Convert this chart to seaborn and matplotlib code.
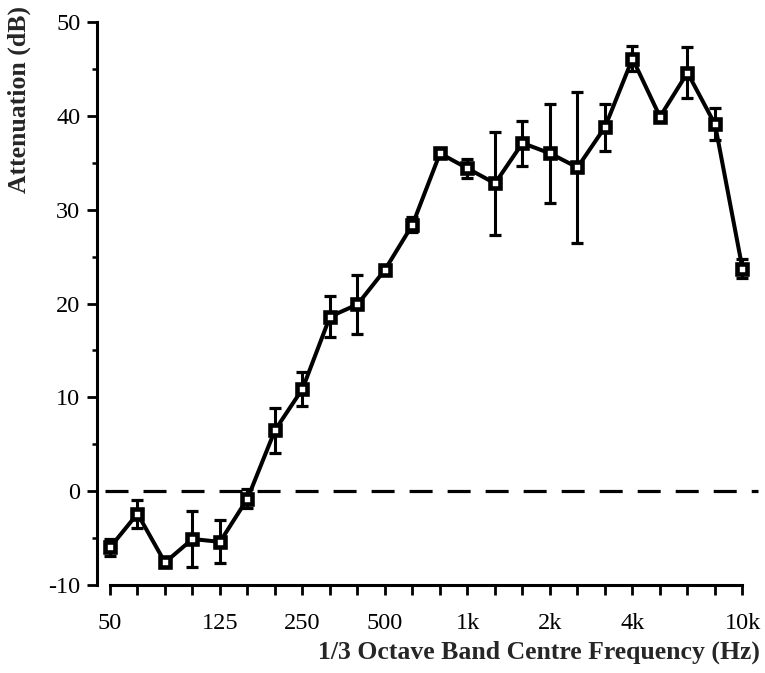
import numpy as np
import pandas as pd
import matplotlib
matplotlib.use("Agg")
import matplotlib.pyplot as plt
import seaborn as sns

# 1/3 octave band centre frequencies
bands = ['50', '63', '80', '100', '125', '160', '200', '250', '315', '400', '500', '630',
         '800', '1k', '1.25k', '1.6k', '2k', '2.5k', '3.15k', '4k', '5k', '6.3k', '8k', '10k']
# mean attenuation (dB)
attenuation = [-6.0, -2.4, -7.6, -5.1, -5.4, -0.8, 6.5, 10.9, 18.6, 19.9, 23.6, 28.4,
               36.0, 34.4, 32.8, 37.1, 36.0, 34.5, 38.8, 46.1, 39.9, 44.6, 39.1, 23.7]
# error (dB, +/-)
error = [0.9, 1.5, 0.5, 3.0, 2.3, 1.0, 2.4, 1.8, 2.2, 3.1, 0.3, 0.8,
         0.2, 1.0, 5.5, 2.4, 5.3, 8.0, 2.5, 1.3, 0.4, 2.7, 1.7, 1.0]
labelled_bands = ['50', '125', '250', '500', '1k', '2k', '4k', '10k']
y_major = [-10, 0, 10, 20, 30, 40, 50]
y_minor = [-5, 5, 15, 25, 35, 45]

df = pd.DataFrame({'band': bands, 'att': attenuation, 'err': error})
df['pos'] = np.arange(len(df))

sns.set_style('ticks')
plt.rcParams['font.family'] = ['Liberation Serif', 'DejaVu Serif']
plt.rcParams['axes.unicode_minus'] = False

fig = plt.figure(figsize=(7.65, 6.73), dpi=100)
ax = fig.add_axes([110 / 765, 88 / 673, 632.5 / 765, 563 / 673])

# zero reference line
ax.plot([-0.18, 23.56], [0, 0], color='black', lw=2.3,
        linestyle=(0, (7.2, 4.7)), clip_on=False, zorder=1)

# error bars
ax.errorbar(df['pos'], df['att'], yerr=df['err'], fmt='none', ecolor='black',
            elinewidth=2.2, capsize=4.4, capthick=2.3, clip_on=False, zorder=2)

# main line with square markers
sns.lineplot(data=df, x='pos', y='att', ax=ax, color='black', linewidth=2.9,
             marker='s', markersize=6.6, markerfacecolor='white',
             markeredgecolor='black', markeredgewidth=3.3, sort=False,
             clip_on=False, zorder=3)

ax.set_xlim(0, len(bands) - 1)
ax.set_ylim(-10, 50)

ax.set_xticks(df['pos'])
ax.set_xticklabels([b if b in labelled_bands else '' for b in bands])
ax.set_yticks(y_major)
ax.set_yticks(y_minor, minor=True)

for s in ['top', 'right']:
    ax.spines[s].set_visible(False)
ax.spines['left'].set_position(('outward', 9.4))
for s in ['left', 'bottom']:
    ax.spines[s].set_linewidth(2.2)
    ax.spines[s].set_color('black')

ax.tick_params(axis='x', which='major', direction='out', length=7, width=2.0,
               pad=13, labelsize=17.5, colors='black')
ax.tick_params(axis='y', which='major', direction='out', length=7, width=2.0,
               pad=5, labelsize=17.5, colors='black')
ax.tick_params(axis='y', which='minor', direction='out', length=3.5, width=1.8,
               colors='black')

ax.set_xlabel('1/3 Octave Band Centre Frequency (Hz)', fontsize=18.5,
              fontweight='bold', loc='right')
ax.xaxis.set_label_coords((760 - 110) / 632.5, (585 - 659) / 563)
ax.xaxis.label.set_va('baseline')

ax.set_ylabel('Attenuation (dB)', fontsize=18.5, fontweight='bold', loc='top')
ax.yaxis.label.set_va('top')
ax.yaxis.set_label_coords((8 - 110) / 632.5, (585 - 6) / 563)

fig.savefig('out.png', dpi=100)
